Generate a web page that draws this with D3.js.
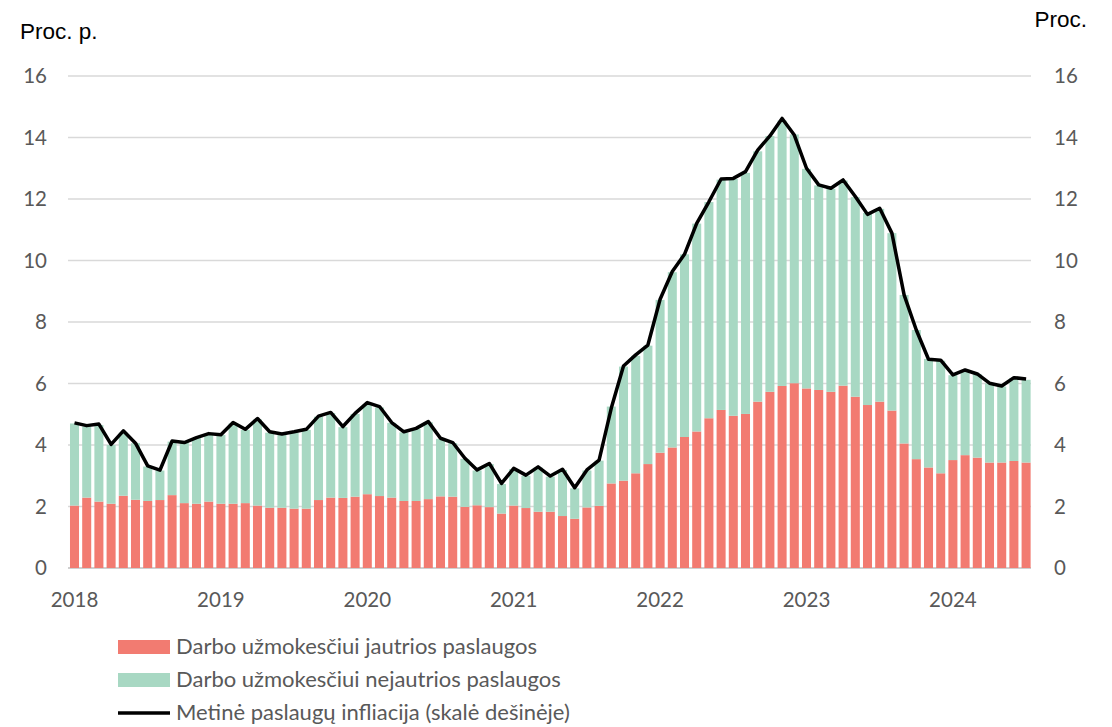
<!DOCTYPE html>
<html>
<head>
<meta charset="utf-8">
<script src="https://cdn.jsdelivr.net/npm/d3@7"></script>
<style>
  body { margin: 0; background: #fff; }
  .tick-lbl { font-family: Lato, "Liberation Sans", sans-serif; font-size: 20.5px; fill: #595959; }
  .ttl { font-family: "Liberation Sans", Arial, sans-serif; font-size: 22.5px; fill: #000; }
  .leg { font-family: Lato, "Open Sans", sans-serif; font-size: 22px; fill: #595959; }
</style>
</head>
<body>
<div id="chart"></div>
<script>
// monthly, Jan 2018 - Jul 2024
var years = ["2018", "2019", "2020", "2021", "2022", "2023", "2024"];

// Darbo užmokesčiui jautrios paslaugos (proc. p.)
var sensitive = [
  2.03, 2.29, 2.16, 2.09, 2.35, 2.22, 2.18, 2.21, 2.37, 2.11, 2.09, 2.16,
  2.09, 2.09, 2.11, 2.03, 1.96, 1.96, 1.93, 1.93, 2.21, 2.29, 2.28, 2.32,
  2.40, 2.34, 2.29, 2.18, 2.18, 2.24, 2.33, 2.32, 1.99, 2.04, 1.98, 1.77,
  2.03, 1.95, 1.83, 1.83, 1.69, 1.60, 1.97, 2.02, 2.75, 2.84, 3.08, 3.38,
  3.75, 3.92, 4.26, 4.44, 4.87, 5.14, 4.95, 5.01, 5.41, 5.73, 5.92, 6.01,
  5.84, 5.79, 5.73, 5.93, 5.57, 5.30, 5.41, 5.12, 4.05, 3.54, 3.27, 3.08,
  3.51, 3.67, 3.59, 3.43, 3.43, 3.48, 3.43
];

// Darbo užmokesčiui nejautrios paslaugos (proc. p.)
var insensitive = [
  2.67, 2.31, 2.49, 1.91, 2.05, 1.84, 1.12, 0.96, 1.74, 2.00, 2.13, 2.17,
  2.24, 2.61, 2.38, 2.80, 2.44, 2.38, 2.48, 2.56, 2.71, 2.75, 2.30, 2.69,
  2.93, 2.88, 2.43, 2.23, 2.34, 2.50, 1.87, 1.74, 1.56, 1.13, 1.40, 0.96,
  1.19, 1.05, 1.44, 1.14, 1.50, 0.99, 1.20, 1.47, 2.50, 3.71, 3.82, 3.85,
  4.97, 5.70, 5.94, 6.76, 7.03, 7.49, 7.70, 7.84, 8.14, 8.32, 8.63, 8.09,
  7.14, 6.65, 6.60, 6.67, 6.49, 6.25, 6.27, 5.77, 4.83, 4.20, 3.53, 3.66,
  2.76, 2.75, 2.71, 2.57, 2.47, 2.70, 2.69
];

// Metinė paslaugų infliacija (proc.)
var inflation = [
  4.72, 4.63, 4.68, 4.02, 4.46, 4.06, 3.32, 3.18, 4.13, 4.08, 4.24, 4.37,
  4.33, 4.73, 4.51, 4.86, 4.43, 4.36, 4.43, 4.51, 4.94, 5.06, 4.60, 5.03,
  5.38, 5.25, 4.73, 4.43, 4.54, 4.76, 4.22, 4.08, 3.57, 3.19, 3.40, 2.75,
  3.24, 3.02, 3.29, 2.99, 3.21, 2.61, 3.19, 3.51, 5.20, 6.57, 6.93, 7.25,
  8.74, 9.64, 10.2, 11.21, 11.91, 12.65, 12.67, 12.89, 13.59, 14.05, 14.62, 14.08,
  13.0, 12.46, 12.35, 12.62, 12.08, 11.5, 11.70, 10.89, 8.88, 7.74, 6.79, 6.76,
  6.28, 6.44, 6.31, 6.01, 5.92, 6.19, 6.15
];

var yTicks = [0, 2, 4, 6, 8, 10, 12, 14, 16];

var width = 1112, height = 727;

var svg = d3.select("#chart").append("svg")
    .attr("width", width)
    .attr("height", height);

var idx = d3.range(sensitive.length);

var x = d3.scaleBand()
    .domain(idx)
    .range([68.4, 68.4 + 79 * 12.2])
    .paddingInner(0.26)
    .paddingOuter(0.13);

var y = d3.scaleLinear().domain([0, 16]).range([568, 76]);
var y2 = d3.scaleLinear().domain([0, 16]).range([568, 76]);

// gridlines
svg.append("g")
    .selectAll("line")
    .data(yTicks)
    .enter().append("line")
        .attr("x1", 68)
        .attr("x2", 1031)
        .attr("y1", function(d) { return y(d); })
        .attr("y2", function(d) { return y(d); })
        .attr("stroke", function(d) { return d == 0 ? "#bfbfbf" : "#d9d9d9"; })
        .attr("stroke-width", 1.3);

// left axis
svg.append("g")
    .attr("transform", "translate(47,0)")
    .call(d3.axisLeft(y).tickValues(yTicks).tickSize(0).tickPadding(0))
    .call(function(g) { g.select(".domain").remove(); })
    .selectAll("text")
        .attr("class", "tick-lbl")
        .attr("font-family", null).attr("font-size", null).attr("fill", null);

// right axis
svg.append("g")
    .attr("transform", "translate(1054,0)")
    .call(d3.axisRight(y2).tickValues(yTicks).tickSize(0).tickPadding(0))
    .call(function(g) { g.select(".domain").remove(); })
    .selectAll("text")
        .attr("class", "tick-lbl")
        .attr("font-family", null).attr("font-size", null).attr("fill", null);

// bars
var stackData = idx.map(function(i) { return {i: i, a: sensitive[i], b: insensitive[i]}; });
var stacked = d3.stack().keys(["a", "b"])(stackData);
var colors = {a: "#f27b71", b: "#a8d8c3"};

svg.append("g")
    .selectAll("g")
    .data(stacked)
    .enter().append("g")
        .attr("fill", function(d) { return colors[d.key]; })
    .selectAll("rect")
    .data(function(d) { return d; })
    .enter().append("rect")
        .attr("x", function(d) { return x(d.data.i); })
        .attr("y", function(d) { return y(d[1]); })
        .attr("height", function(d) { return y(d[0]) - y(d[1]); })
        .attr("width", x.bandwidth());

// line
var line = d3.line()
    .x(function(d, i) { return x(i) + x.bandwidth() / 2; })
    .y(function(d) { return y2(d); });

svg.append("path")
    .datum(inflation)
    .attr("d", line)
    .attr("fill", "none")
    .attr("stroke", "#000")
    .attr("stroke-width", 3.5)
    .attr("stroke-linejoin", "round");

// year labels
svg.append("g")
    .selectAll("text")
    .data(years)
    .enter().append("text")
        .attr("class", "tick-lbl")
        .attr("x", function(d, i) { return x(i * 12) + x.bandwidth() / 2; })
        .attr("y", 607)
        .attr("text-anchor", "middle")
        .text(function(d) { return d; });

// axis titles
svg.append("text").attr("class", "ttl").attr("x", 20).attr("y", 39).text("Proc. p.");
svg.append("text").attr("class", "ttl").attr("x", 1087).attr("y", 27)
    .attr("text-anchor", "end").text("Proc.");

// legend
var legend = [
    {label: "Darbo užmokesčiui jautrios paslaugos", type: "rect", color: colors.a},
    {label: "Darbo užmokesčiui nejautrios paslaugos", type: "rect", color: colors.b},
    {label: "Metinė paslaugų infliacija (skalė dešinėje)", type: "line", color: "#000"}
];

var lg = svg.append("g").selectAll("g")
    .data(legend)
    .enter().append("g")
        .attr("transform", function(d, i) { return "translate(118," + (647 + i * 33) + ")"; });

lg.filter(function(d) { return d.type == "rect"; })
    .append("rect")
        .attr("x", 0).attr("y", -7)
        .attr("width", 52).attr("height", 14)
        .attr("fill", function(d) { return d.color; });

lg.filter(function(d) { return d.type == "line"; })
    .append("line")
        .attr("x1", 0).attr("x2", 52)
        .attr("stroke", "#000").attr("stroke-width", 3.5);

lg.append("text")
    .attr("class", "leg")
    .attr("x", 58)
    .attr("dy", "0.32em")
    .text(function(d) { return d.label; });
</script>
</body>
</html>
